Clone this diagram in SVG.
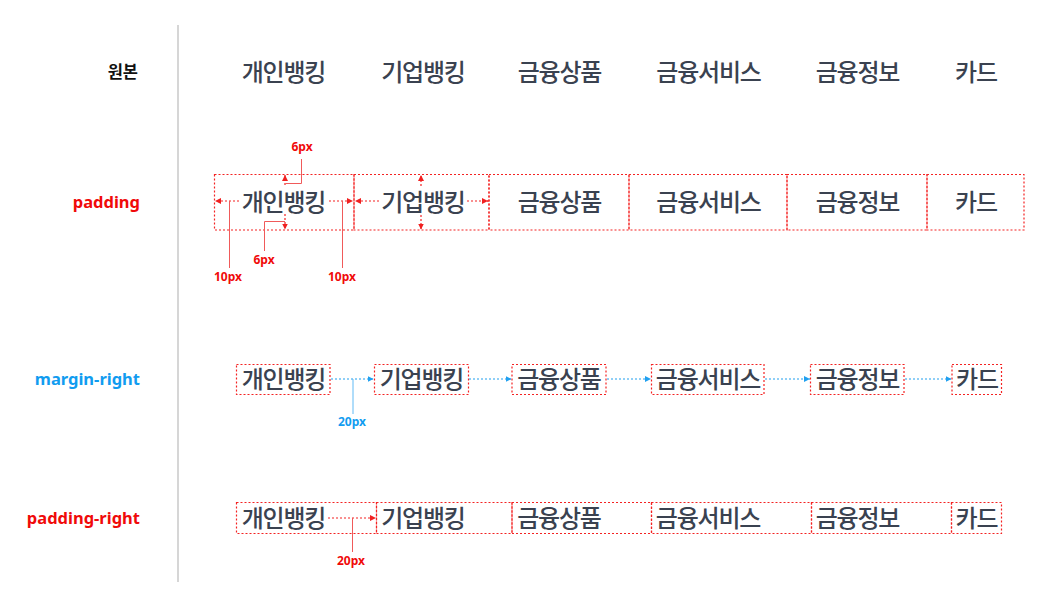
<svg xmlns="http://www.w3.org/2000/svg" width="1050" height="608" viewBox="0 0 1050 608">
<style>
.menu{font-family:"Noto Sans CJK KR","Noto Sans",sans-serif;font-size:24px;font-weight:500;fill:#3a4250;text-anchor:middle;letter-spacing:-1.2px}
.lab{font-family:"Noto Sans","Noto Sans CJK KR",sans-serif;font-size:16.5px;font-weight:700;text-anchor:end}
.red{fill:#f00a0a}
.blue{fill:#119cf0}
.blk{fill:#111}
.px{font-family:"Noto Sans","Noto Sans CJK KR",sans-serif;font-size:12px;font-weight:700;text-anchor:middle}
.box{fill:none;stroke:#f42222;stroke-width:1.2;stroke-dasharray:2 2}
.ra{fill:none;stroke:#f42222;stroke-width:1.2;stroke-dasharray:2 2}
.ba{fill:none;stroke:#20a0f0;stroke-width:1.2;stroke-dasharray:2 2}
.rl{fill:none;stroke:#f05a5a;stroke-width:1}
.bl{fill:none;stroke:#60baf5;stroke-width:1}
</style>
<defs>
<marker id="rh" viewBox="0 0 6 6" refX="6" refY="3" markerWidth="6" markerHeight="6" orient="auto-start-reverse" markerUnits="userSpaceOnUse"><path d="M0,0 L6,3 L0,6 Z" fill="#f02020"/></marker>
<marker id="bh" viewBox="0 0 6 6" refX="6" refY="3" markerWidth="6" markerHeight="6" orient="auto-start-reverse" markerUnits="userSpaceOnUse"><path d="M0,0 L6,3 L0,6 Z" fill="#20a0f0"/></marker>
</defs>
<rect width="1050" height="608" fill="#fff"/>
<line x1="178" y1="25" x2="178" y2="582" stroke="#c8c8c8" stroke-width="1.5"/>

<g id="labels">
<text class="lab blk" x="138" y="78">원본</text>
<text class="lab red" x="140" y="208">padding</text>
<text class="lab blue" x="140" y="385">margin-right</text>
<text class="lab red" x="140" y="524">padding-right</text>
</g>

<g id="row-original">
<text class="menu" x="283.5" y="81">개인뱅킹</text>
<text class="menu" x="423" y="81">기업뱅킹</text>
<text class="menu" x="559.5" y="81">금융상품</text>
<text class="menu" x="708.5" y="81">금융서비스</text>
<text class="menu" x="857.5" y="81">금융정보</text>
<text class="menu" x="976" y="81">카드</text>
</g>

<g id="row-padding">
<rect class="box" x="214.5" y="174.5" width="139.5" height="55.5"/>
<rect class="box" x="354" y="174.5" width="135" height="55.5"/>
<rect class="box" x="489" y="174.5" width="140" height="55.5"/>
<rect class="box" x="629" y="174.5" width="158" height="55.5"/>
<rect class="box" x="787" y="174.5" width="140" height="55.5"/>
<rect class="box" x="927" y="174.5" width="97" height="55.5"/>
<text class="menu" x="283.5" y="211">개인뱅킹</text>
<text class="menu" x="423" y="211">기업뱅킹</text>
<text class="menu" x="559.5" y="211">금융상품</text>
<text class="menu" x="708.5" y="211">금융서비스</text>
<text class="menu" x="857.5" y="211">금융정보</text>
<text class="menu" x="976" y="211">카드</text>
</g>

<g id="row-margin">
<rect class="box" x="236.5" y="364.5" width="93.5" height="30"/>
<rect class="box" x="374.5" y="364.5" width="94" height="30"/>
<rect class="box" x="512" y="364.5" width="94" height="30"/>
<rect class="box" x="651.5" y="364.5" width="112.5" height="30"/>
<rect class="box" x="810.5" y="364.5" width="93.5" height="30"/>
<rect class="box" x="952" y="364.5" width="49.5" height="30"/>
<text class="menu" x="283.5" y="388">개인뱅킹</text>
<text class="menu" x="421.5" y="388">기업뱅킹</text>
<text class="menu" x="559" y="388">금융상품</text>
<text class="menu" x="708" y="388">금융서비스</text>
<text class="menu" x="857.5" y="388">금융정보</text>
<text class="menu" x="977" y="388">카드</text>
</g>

<g id="row-padding-right">
<rect class="box" x="236.5" y="502.5" width="140" height="31"/>
<rect class="box" x="376.5" y="502.5" width="135.5" height="31"/>
<rect class="box" x="512" y="502.5" width="139.5" height="31"/>
<rect class="box" x="651.5" y="502.5" width="160" height="31"/>
<rect class="box" x="811.5" y="502.5" width="140" height="31"/>
<rect class="box" x="951.5" y="502.5" width="50" height="31"/>
<text class="menu" x="283.5" y="527">개인뱅킹</text>
<text class="menu" x="423" y="527">기업뱅킹</text>
<text class="menu" x="559" y="527">금융상품</text>
<text class="menu" x="708" y="527">금융서비스</text>
<text class="menu" x="857.5" y="527">금융정보</text>
<text class="menu" x="976.5" y="527">카드</text>
</g>

<g id="connectors">
<!-- padding row -->
<line class="ra" x1="239" y1="201" x2="215" y2="201" marker-end="url(#rh)"/>
<line class="ra" x1="329" y1="201" x2="353" y2="201" marker-end="url(#rh)"/>
<line class="ra" x1="379" y1="201" x2="355" y2="201" marker-end="url(#rh)"/>
<line class="ra" x1="467" y1="201" x2="488" y2="201" marker-end="url(#rh)"/>
<line x1="487" y1="201" x2="489" y2="201" stroke="#f02020"/>
<line class="ra" x1="285" y1="185" x2="285" y2="175" marker-end="url(#rh)"/>
<line class="ra" x1="285" y1="214" x2="285" y2="229.5" marker-end="url(#rh)"/>
<line class="ra" x1="421" y1="186" x2="421" y2="175" marker-end="url(#rh)"/>
<line class="ra" x1="421" y1="215" x2="421" y2="229.5" marker-end="url(#rh)"/>
<polyline class="rl" points="285.5,183.5 301.5,183.5 301.5,159"/>
<polyline class="rl" points="285,221.5 264.5,221.5 264.5,251"/>
<line class="rl" x1="229.5" y1="201" x2="229.5" y2="268"/>
<line class="rl" x1="342.5" y1="201" x2="342.5" y2="268"/>
<text class="px red" x="302" y="151">6px</text>
<text class="px red" x="264" y="264">6px</text>
<text class="px red" x="228" y="281">10px</text>
<text class="px red" x="342" y="281">10px</text>
<!-- margin row -->
<line class="ba" x1="331" y1="379" x2="373.5" y2="379" marker-end="url(#bh)"/>
<line class="ba" x1="469" y1="379" x2="511.5" y2="379" marker-end="url(#bh)"/>
<line class="ba" x1="607" y1="379" x2="651" y2="379" marker-end="url(#bh)"/>
<line class="ba" x1="765" y1="379" x2="810" y2="379" marker-end="url(#bh)"/>
<line class="ba" x1="905" y1="379" x2="951.5" y2="379" marker-end="url(#bh)"/>
<line class="bl" x1="353" y1="379" x2="353" y2="414"/>
<text class="px blue" x="352" y="426">20px</text>
<!-- padding-right row -->
<line class="ra" x1="328" y1="518" x2="376" y2="518" marker-end="url(#rh)"/>
<line class="rl" x1="352.5" y1="518" x2="352.5" y2="552"/>
<text class="px red" x="351" y="565">20px</text>
</g>
</svg>
